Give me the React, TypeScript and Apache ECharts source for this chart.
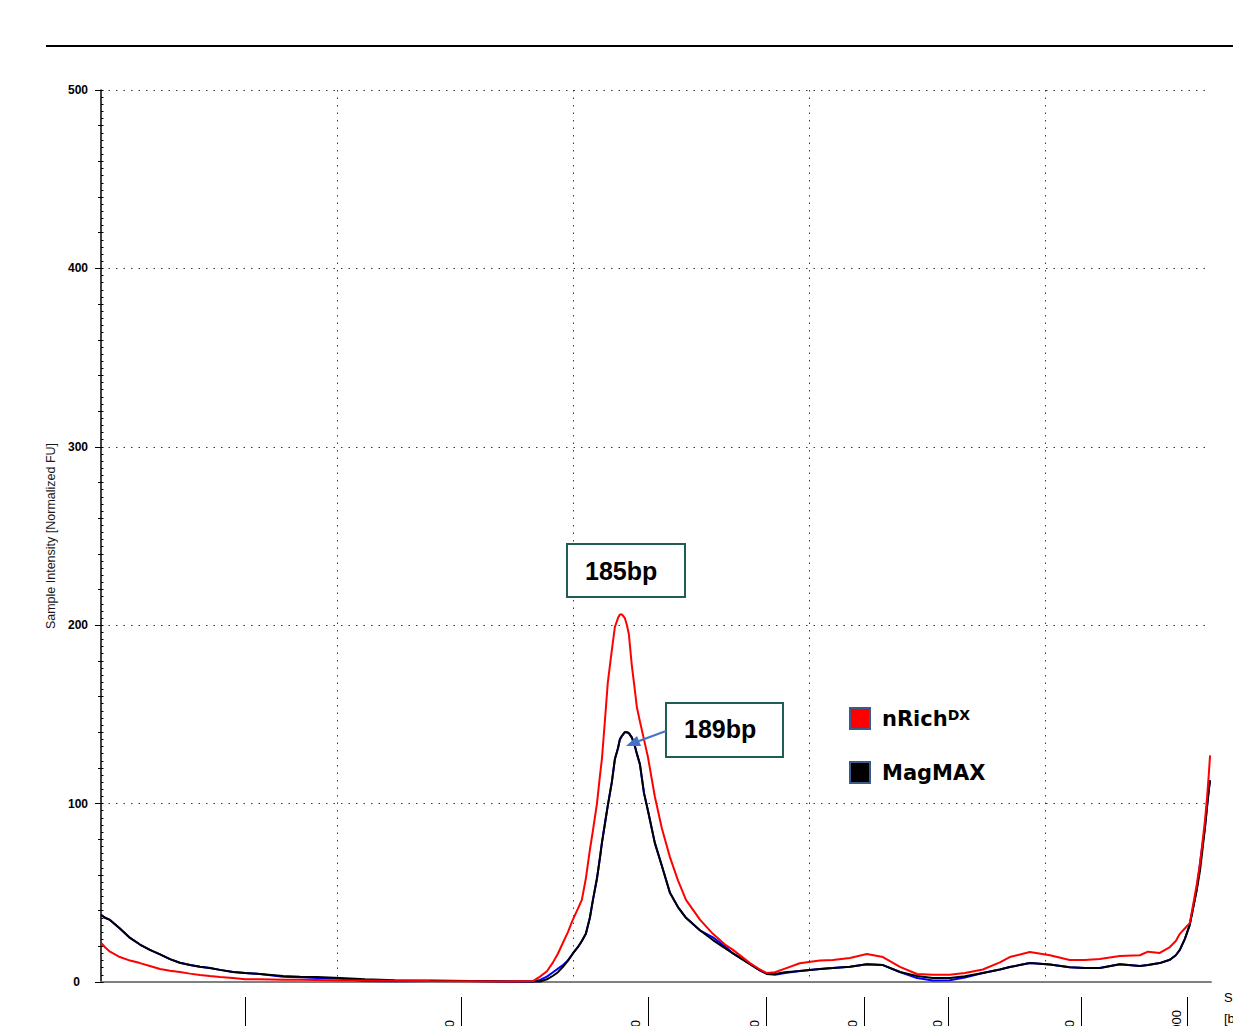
import React, { useEffect, useRef } from "react";
import * as echarts from "echarts";

// x positions (migration units, 0..470) shared by all traces
const xPos = [
  0, 1.7, 3.8, 8.0, 12.3, 16.5, 20.7, 25.0, 29.2, 33.4,
  37.7, 41.9, 46.1, 50.4, 55.9, 61.0, 67.3, 77.1, 84.3, 91.4,
  101.2, 111.8, 124.5, 139.3, 156.2, 173.2, 182.9, 185.9, 188.8, 191.4,
  193.5, 195.6, 197.7, 199.8, 201.9, 203.6, 205.3, 207.0, 208.3, 210.0,
  211.3, 212.1, 213.4, 214.6, 216.3, 217.6, 218.9, 219.7, 220.6, 221.8,
  222.7, 223.5, 224.8, 226.1, 226.9, 228.2, 229.9, 231.6, 234.5, 237.5,
  240.9, 244.3, 247.7, 253.6, 259.1, 264.2, 267.6, 274.8, 279.0, 282.0,
  285.4, 289.6, 295.9, 304.4, 309.9, 317.1, 324.3, 331.1, 338.3, 345.5,
  352.2, 359.4, 365.8, 373.4, 380.6, 384.8, 393.3, 401.8, 410.2, 416.6,
  422.9, 431.4, 439.9, 443.3, 448.3, 452.6, 455.1, 456.8, 458.9, 461.0,
  462.8, 464.0, 465.3, 466.2, 467.4, 468.3, 469.1, 469.6,
];

const nRichValues = [
  22, 19.5, 17, 14, 12, 10.6, 9, 7.3, 6.3, 5.6,
  4.7, 3.9, 3.3, 2.8, 2.2, 1.5, 1.5, 1.3, 1.2, 1.1,
  0.9, 0.8, 0.7, 0.5, 0.4, 0.3, 0.5, 3, 6, 11,
  16, 22, 28, 35, 41, 46, 58, 74, 85, 100,
  116, 125, 147, 168, 186, 199, 204, 206, 206, 204,
  200, 195, 177, 163, 154, 146, 136, 126, 104, 86,
  70, 57, 46, 35, 27, 21, 18, 10.6, 7, 5,
  5.5, 7.5, 10.5, 12, 12.3, 13.5, 15.7, 14, 8.5, 4.5,
  4, 4, 5, 7, 11, 14, 16.8, 15, 12.3, 12.3,
  12.9, 14.6, 15, 17, 16.3, 19.6, 23, 27, 30, 33,
  46, 55, 66, 76, 90, 103, 117, 127,
];

const magMaxValues = [
  37.6, 36, 34.8, 30, 24.7, 21, 18, 15.5, 12.8, 10.8,
  9.5, 8.6, 7.8, 6.8, 5.6, 5, 4.5, 3.4, 3, 2.8,
  2.2, 1.5, 1.0, 0.8, 0.5, 0.3, 0.3, 0.3, 1.5, 3.5,
  5.5, 8.5, 12, 16, 19.5, 23, 27, 36, 46, 58,
  70, 78, 89, 99, 112, 125, 131, 136, 138, 140,
  140, 139.5, 137, 132, 128, 122, 106, 96, 78, 65,
  50, 42, 36, 29, 23.5, 19, 16, 10, 6.5, 4.5,
  4.5, 5.5, 6.2, 7.3, 7.8, 8.5, 10, 9.5, 5.6, 3.4,
  2.2, 2.2, 3.2, 5, 7, 8.4, 10.6, 9.8, 8.3, 7.8,
  7.8, 10, 9, 9.5, 10.6, 12.5, 15, 18, 24, 32,
  44, 52, 62, 72, 86, 98, 108, 113,
];

const thirdValues = [
  37.6, 36, 34.8, 30, 24.7, 21, 18, 15.5, 12.8, 10.8,
  9.5, 8.6, 7.8, 6.8, 5.6, 5, 4.5, 3.0, 2.6, 2.3,
  1.8, 0.6, 0.4, 0.5, 0.5, 0.3, 0.3, 1.2, 3, 5.5,
  7.5, 9.5, 12, 16, 19.5, 23, 27, 36, 46, 58,
  70, 78, 89, 99, 112, 125, 131, 136, 138, 140,
  140, 139.5, 137, 132, 128, 122, 106, 96, 78, 65,
  50, 42, 36, 29, 25, 20, 16, 10, 6.5, 4.5,
  4.0, 5.0, 6.2, 7.3, 7.8, 8.5, 10, 9.5, 5.6, 2.2,
  0.8, 1.0, 2.5, 5, 7, 8.4, 10.6, 9.8, 8.3, 7.8,
  7.8, 10, 9, 9.5, 10.6, 12.5, 15, 18, 24, 32,
  44, 52, 66, 75, 86, 98, 108, 113,
];

// ladder tick marks below the axis and their (clipped) rotated labels
const ladderTickPos = [61.0, 152.4, 231.6, 281.5, 323.0, 358.6, 414.9, 459.8];
const ladderLabelPos = [147.5, 226.5, 276.9, 318.4, 354.0, 410.2, 455.5];
const ladderLabelText = ["100", "200", "300", "400", "500", "1000", "2000"];

const seriesNames = ["nRich", "MagMAX"];
const peakLabels = ["185bp", "189bp"];

const FONT = "'Liberation Sans', Arial, sans-serif";

export default function App() {
  const ref = useRef<HTMLDivElement>(null);

  useEffect(() => {
    if (!ref.current) return;
    const chart = echarts.init(ref.current, undefined, { renderer: "svg" });
    const pairs = (vals: number[]) => xPos.map((x, i) => [x, vals[i]]);
    const dotted = { color: "#3a3a3a", width: 1, type: [1.5, 6] as any };

    const option: any = {
      animation: false,
      backgroundColor: "#ffffff",
      grid: [
        { left: 101, right: 22, top: 90, bottom: 44, containLabel: false, outerBoundsMode: "none" },
        { left: 101, right: 22, top: 990, bottom: 29, containLabel: false, outerBoundsMode: "none" },
      ],
      legend: {
        orient: "vertical",
        left: 849,
        top: 707,
        padding: 0,
        icon: "rect",
        itemWidth: 20,
        itemHeight: 21,
        itemGap: 31,
        selectedMode: false,
        data: [
          { name: seriesNames[0], itemStyle: { color: "#ff0000", borderColor: "#3b5a8c", borderWidth: 2 } },
          { name: seriesNames[1], itemStyle: { color: "#000000", borderColor: "#3b5a8c", borderWidth: 2 } },
        ],
        formatter: (n: string) => (n === seriesNames[0] ? `{a|${n}}{s|DX}` : `{a|${n}}`),
        textStyle: {
          rich: {
            a: {
              fontFamily: "'DejaVu Sans', sans-serif",
              fontWeight: "bold",
              fontSize: 21,
              color: "#000",
              lineHeight: 21,
              padding: [0, 0, 0, 7],
              verticalAlign: "bottom",
            },
            s: {
              fontFamily: "'DejaVu Sans', sans-serif",
              fontWeight: "bold",
              fontSize: 14,
              color: "#000",
              lineHeight: 14,
              verticalAlign: "top",
              padding: [0, 0, 8, 0],
            },
          },
        },
      },
      xAxis: [
        {
          type: "value",
          gridIndex: 0,
          min: 0,
          max: 470,
          interval: 100,
          axisLine: { show: true, lineStyle: { color: "#808080", width: 2 } },
          axisTick: { show: false },
          axisLabel: { show: false },
          splitLine: { show: true, showMinLine: false, showMaxLine: false, lineStyle: dotted },
          name: "Size\n[bp]",
          nameLocation: "end",
          nameGap: 13,
          nameTextStyle: {
            fontFamily: FONT,
            fontSize: 13,
            color: "#000",
            lineHeight: 21,
            align: "left",
            verticalAlign: "top",
            padding: [5, 0, 0, 0],
          },
        },
        {
          type: "value",
          gridIndex: 1,
          min: 0,
          max: 470,
          position: "bottom",
          axisLine: { show: false },
          axisTick: {
            show: true,
            length: 30,
            customValues: ladderTickPos,
            lineStyle: { color: "#000", width: 1 },
          },
          axisLabel: {
            show: true,
            customValues: ladderLabelPos,
            rotate: 90,
            margin: 13,
            fontFamily: FONT,
            fontSize: 13,
            color: "#000",
            formatter: (v: number) => {
              const i = ladderLabelPos.indexOf(v);
              if (i < 0) return "";
              const t = ladderLabelText[i];
              return i === ladderLabelPos.length - 1 ? t : `{p|${t}}`;
            },
            rich: { p: { fontFamily: FONT, fontSize: 13, color: "#000", padding: [0, 10, 0, 0] } },
          },
          splitLine: { show: false },
        },
      ],
      yAxis: [
        {
          type: "value",
          gridIndex: 0,
          min: 0,
          max: 500,
          interval: 100,
          axisLine: { show: true, lineStyle: { color: "#000", width: 1.5 } },
          axisTick: { show: true, length: 6, lineStyle: { color: "#000", width: 1 } },
          minorTick: { show: true, splitNumber: 5, length: 3, lineStyle: { color: "#000", width: 1 } },
          axisLabel: {
            margin: 13,
            fontFamily: FONT,
            fontSize: 12,
            fontWeight: "bold",
            color: "#000",
            formatter: (v: number) => (v === 0 ? "{z|0}" : String(v)),
            rich: { z: { fontFamily: FONT, fontSize: 12, fontWeight: "bold", color: "#000", padding: [0, 8, 0, 0] } },
          },
          splitLine: { show: true, showMinLine: false, lineStyle: dotted },
          name: "Sample Intensity [Normalized FU]",
          nameLocation: "middle",
          nameGap: 44,
          nameTextStyle: { fontFamily: FONT, fontSize: 12.5, color: "#1a1a1a" },
        },
        {
          type: "value",
          gridIndex: 0,
          min: 0,
          max: 500,
          interval: 4,
          position: "left",
          axisLine: { show: false },
          axisTick: { show: true, inside: true, length: 2.5, lineStyle: { color: "#000", width: 1 } },
          axisLabel: { show: false },
          splitLine: { show: false },
        },
        {
          type: "value",
          gridIndex: 1,
          min: 0,
          max: 1,
          show: false,
        },
      ],
      series: [
        {
          type: "line",
          name: "Sample 3",
          data: pairs(thirdValues),
          showSymbol: false,
          silent: true,
          lineStyle: { color: "#0000ff", width: 2 },
          itemStyle: { color: "#0000ff" },
          z: 2,
        },
        {
          type: "line",
          name: seriesNames[1],
          data: pairs(magMaxValues),
          showSymbol: false,
          silent: true,
          lineStyle: { color: "#000000", width: 2 },
          itemStyle: { color: "#000000" },
          z: 3,
        },
        {
          type: "line",
          name: seriesNames[0],
          data: pairs(nRichValues),
          showSymbol: false,
          silent: true,
          lineStyle: { color: "#ff0000", width: 2 },
          itemStyle: { color: "#ff0000" },
          z: 4,
        },
      ],
      graphic: [
        { type: "line", shape: { x1: 46, y1: 46, x2: 1233, y2: 46 }, style: { stroke: "#000", lineWidth: 2 }, z: 10 },
        {
          type: "rect",
          shape: { x: 567, y: 544, width: 118, height: 53 },
          style: { fill: "#ffffff", stroke: "#1f5d55", lineWidth: 2 },
          z: 10,
        },
        {
          type: "text",
          x: 585,
          y: 571,
          style: {
            text: peakLabels[0],
            fontFamily: FONT,
            fontWeight: "bold",
            fontSize: 25,
            fill: "#000",
            textVerticalAlign: "middle",
            verticalAlign: "middle",
          },
          z: 11,
        },
        {
          type: "rect",
          shape: { x: 666, y: 703, width: 117, height: 54 },
          style: { fill: "#ffffff", stroke: "#1f5d55", lineWidth: 2 },
          z: 10,
        },
        {
          type: "text",
          x: 684,
          y: 729,
          style: {
            text: peakLabels[1],
            fontFamily: FONT,
            fontWeight: "bold",
            fontSize: 25,
            fill: "#000",
            textVerticalAlign: "middle",
            verticalAlign: "middle",
          },
          z: 11,
        },
        {
          type: "line",
          shape: { x1: 666, y1: 731, x2: 639, y2: 741 },
          style: { stroke: "#4472c4", lineWidth: 2 },
          z: 12,
        },
        {
          type: "polygon",
          shape: { points: [[626, 746], [641, 746], [637, 736]] },
          style: { fill: "#4472c4" },
          z: 12,
        },
      ],
    };

    chart.setOption(option);
    return () => chart.dispose();
  }, []);

  return (
    <div
      ref={ref}
      style={{ position: "fixed", left: 0, top: 0, width: 1233, height: 1026, background: "#fff" }}
    />
  );
}
